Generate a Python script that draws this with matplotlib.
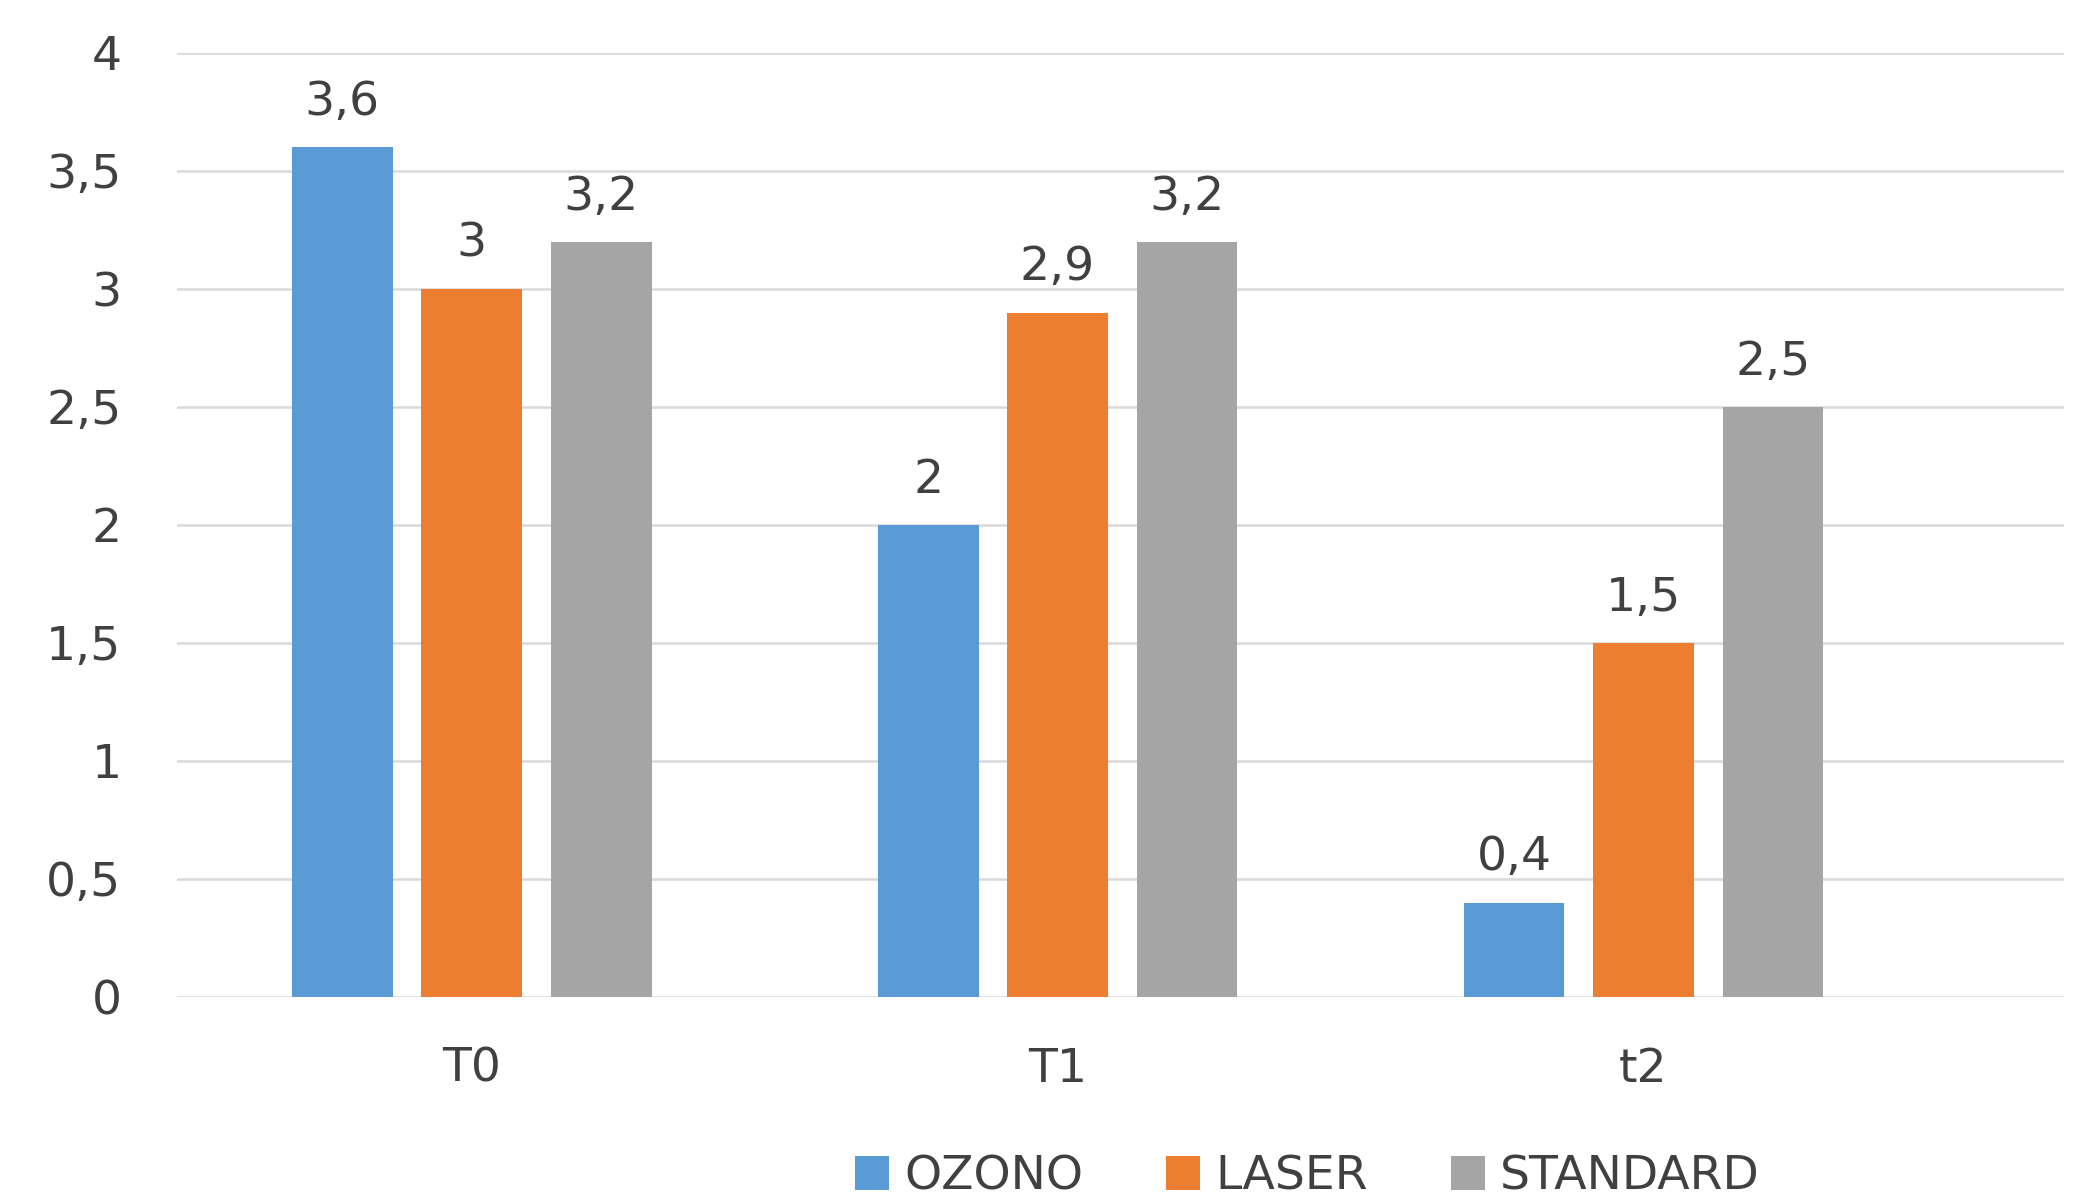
import numpy as np
import matplotlib
matplotlib.use("Agg")
import matplotlib.pyplot as plt

# data
categories = ["T0", "T1", "t2"]
series_names = ["OZONO", "LASER", "STANDARD"]
ozono = [3.6, 2.0, 0.4]
laser = [3.0, 2.9, 1.5]
standard = [3.2, 3.2, 2.5]
colors = ["#5B9BD5", "#ED7D31", "#A5A5A5"]
yticks = [0, 0.5, 1, 1.5, 2, 2.5, 3, 3.5, 4]

text_color = "#404040"
fsize = 34

plt.rcParams["font.family"] = ["DejaVu Sans"]

fig = plt.figure(figsize=(20.85, 11.96), dpi=100)
ax = fig.add_axes([0.0849, 0.1664, 0.9051, 0.7893])

x = np.arange(len(categories))
width = 0.172
offset = 0.221

for i, (vals, name, col) in enumerate(zip([ozono, laser, standard], series_names, colors)):
    bars = ax.bar(x + (i - 1) * offset, vals, width, color=col, label=name, zorder=3)
    for b, v in zip(bars, vals):
        lbl = ("%g" % v).replace(".", ",")
        ax.annotate(lbl, (b.get_x() + b.get_width() / 2, v), xytext=(0, 16),
                    textcoords="offset points", ha="center", va="bottom",
                    fontsize=fsize, color=text_color)

ax.set_xlim(-0.503, 2.718)
ax.set_ylim(0, 4)
ax.set_yticks(yticks)
ax.set_yticklabels([("%g" % t).replace(".", ",") for t in yticks])
ax.set_xticks(x)
ax.set_xticklabels(categories)
ax.tick_params(axis="both", length=0, labelsize=fsize, labelcolor=text_color)
ax.tick_params(axis="y", pad=40)
ax.tick_params(axis="x", pad=36)

ax.grid(axis="y", color="#D9D9D9", linewidth=1.8, zorder=0)
ax.set_axisbelow(True)
for s in ax.spines.values():
    s.set_visible(False)

fig.legend(loc="center", bbox_to_anchor=(0.627, 0.016), ncol=3, frameon=False,
           fontsize=fsize, labelcolor=text_color, handlelength=0.72,
           handleheight=0.72, handletextpad=0.33, columnspacing=1.75)

fig.savefig("out.png", dpi=100, facecolor="white")
